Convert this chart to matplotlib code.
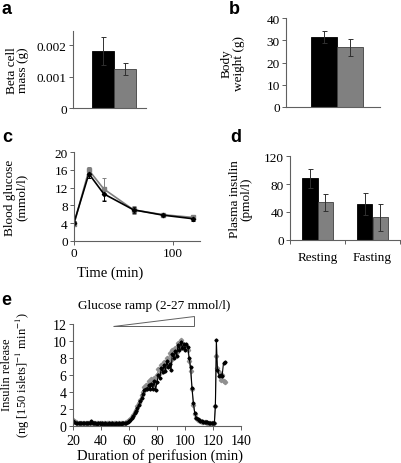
import numpy as np
import matplotlib
matplotlib.use("Agg")
import matplotlib.pyplot as plt
from matplotlib.patches import Polygon

plt.rcParams['font.family'] = ['Liberation Serif', 'DejaVu Serif']
plt.rcParams['mathtext.fontset'] = 'stix'

# panel a: beta cell mass (g)
beta_mass = [0.00182, 0.00125]
beta_err = [0.00045, 0.0002]

# panel b: body weight (g)
body_weight = [31.5, 26.8]
body_err = [2.6, 3.9]

# panel c: blood glucose (mmol/l)
t_gluc = [0, 15, 30, 60, 90, 120]
gluc_black = [4.1, 15.1, 10.6, 7.0, 5.8, 5.0]
gluc_black_err = [0.5, 1.0, 1.6, 0.6, 0.3, 0.4]
gluc_grey = [3.8, 15.9, 11.7, 7.0, 5.9, 5.3]
gluc_grey_err = [0.5, 0.8, 2.4, 0.9, 0.4, 0.3]

# panel d: plasma insulin (pmol/l)
ins_cats = ['Resting', 'Fasting']
ins_black = [88.3, 51.4]
ins_black_err = [13.4, 15.8]
ins_grey = [53.8, 32.2]
ins_grey_err = [12.2, 18.8]

# panel e: perifusion insulin release
t_peri = list(range(20, 122)) + [121.7, 122.4, 123.2, 124.5, 125.5, 126.5, 127.5, 128.8]
rel_black = [0.55, 0.45, 0.40, 0.35, 0.35, 0.30, 0.35, 0.30, 0.30, 0.30,
             0.30, 0.35, 0.30, 0.55, 0.30, 0.30, 0.30, 0.25, 0.30, 0.30,
             0.25, 0.30, 0.25, 0.30, 0.25, 0.25, 0.30, 0.25, 0.30, 0.25,
             0.25, 0.30, 0.25, 0.30, 0.25, 0.30, 0.30, 0.35, 0.40, 0.50,
             0.60, 0.75, 0.95, 1.20, 1.50, 1.80, 2.10, 2.50, 2.90, 3.30,
             3.80, 4.20, 4.40, 4.30, 4.80, 4.30, 4.90, 4.40, 5.30, 4.20,
             5.20, 6.00, 5.60, 6.80, 6.30, 7.20, 6.50, 7.60, 6.90, 7.30,
             6.60, 8.50, 8.00, 8.80, 8.20, 9.50, 9.00, 9.90, 9.20, 9.60,
             9.00, 9.60, 9.30, 8.00, 6.90, 4.50, 2.70, 1.50, 1.00, 0.80,
             0.70, 0.60, 0.55, 0.50, 0.50, 0.45, 0.45, 0.40, 0.40, 0.40,
             0.35, 0.40,
             2.40, 10.10, 6.60, 5.90, 6.00, 5.90, 7.40, 7.50]
rel_grey = [0.65, 0.55, 0.45, 0.40, 0.40, 0.35, 0.35, 0.35, 0.30, 0.35,
            0.35, 0.30, 0.35, 0.40, 0.35, 0.30, 0.35, 0.30, 0.30, 0.35,
            0.30, 0.30, 0.35, 0.30, 0.30, 0.35, 0.30, 0.35, 0.40, 0.30,
            0.30, 0.30, 0.30, 0.35, 0.30, 0.35, 0.35, 0.40, 0.45, 0.55,
            0.70, 0.85, 1.05, 1.30, 1.60, 1.90, 2.30, 2.70, 3.10, 3.60,
            4.00, 4.60, 4.80, 4.50, 5.30, 4.90, 5.50, 5.00, 5.60, 5.20,
            6.00, 6.70, 6.20, 7.20, 6.80, 7.50, 7.00, 8.00, 7.40, 8.60,
            7.80, 8.90, 8.40, 9.20, 8.70, 9.80, 9.30, 10.10, 9.40, 9.50,
            9.20, 9.40, 9.00, 7.60, 6.50, 4.30, 2.50, 1.40, 0.90, 0.75,
            0.65, 0.55, 0.50, 0.50, 0.45, 0.45, 0.40, 0.40, 0.35, 0.35,
            0.35, 0.40,
            2.30, 8.20, 6.80, 6.30, 5.40, 6.00, 5.30, 5.20]
ramp_start, ramp_end = 48.4, 106.6

BLACK = '#000000'
GREY = '#808080'
SPINE = '#606060'

W, H = 402, 464
fig = plt.figure(figsize=(W / 100, H / 100), dpi=100)


def px_axes(x0, y0, x1, y1):
    # pixel box (left, top, right, bottom) -> figure axes
    return fig.add_axes([x0 / W, 1 - y1 / H, (x1 - x0) / W, (y1 - y0) / H])


def style(ax):
    for s in ['top', 'right']:
        ax.spines[s].set_visible(False)
    for s in ['left', 'bottom']:
        ax.spines[s].set_color(SPINE)
        ax.spines[s].set_linewidth(0.8)
    ax.tick_params(labelsize=9.5, length=3, width=0.7, color=SPINE, pad=1.5)


def bars(ax, vals, errs):
    w = 0.3
    ax.bar([-w / 2], [vals[0]], w, color=BLACK, edgecolor=BLACK, lw=0.6)
    ax.bar([w / 2], [vals[1]], w, color=GREY, edgecolor='#404040', lw=0.6)
    ax.errorbar([-w / 2, w / 2], vals, yerr=errs, fmt='none',
                ecolor='#303030', elinewidth=0.7, capsize=1.8, capthick=0.7)
    ax.set_xticks([])


def letter(x, y, s):
    fig.text(x / W, 1 - y / H, s, fontsize=13, fontweight='bold',
             family='Liberation Sans', ha='center', va='center')


# a
ax = px_axes(73, 32, 146, 109)
style(ax)
bars(ax, beta_mass, beta_err)
ax.set_xlim(-0.547, 0.427)
ax.set_ylim(0, 0.00246)
ax.set_yticks([0, 0.001, 0.002])
ax.set_yticklabels(['0', '0.001', '0.002'])
ax.set_ylabel('Beta cell\nmass (g)', fontsize=9.5, linespacing=0.95)
ax.yaxis.set_label_coords(-0.6, 0.5)
letter(7, 10, 'a')

# b
ax = px_axes(286, 19, 380, 108)
style(ax)
bars(ax, body_weight, body_err)
ax.set_xlim(-0.58, 0.49)
ax.set_ylim(0, 40)
ax.set_yticks([0, 10, 20, 30, 40])
ax.set_ylabel('Body\nweight (g)', fontsize=9.5, linespacing=0.95)
ax.yaxis.set_label_coords(-0.44, 0.5)
letter(234, 9, 'b')

# c
ax = px_axes(74, 153, 200, 242)
style(ax)
ax.errorbar(t_gluc, gluc_grey, yerr=gluc_grey_err, color=GREY, marker='s',
            ms=3, lw=1.2, elinewidth=0.7, capsize=1.5, capthick=0.7)
ax.errorbar(t_gluc, gluc_black, yerr=gluc_black_err, color=BLACK, marker='D',
            ms=2.2, lw=1.2, elinewidth=0.7, capsize=1.5, capthick=0.7)
ax.set_xlim(0, 127)
ax.set_ylim(0, 20)
ax.set_yticks([0, 4, 8, 12, 16, 20])
ax.set_xticks([0, 100])
ax.set_xlabel('Time (min)', fontsize=10.5)
ax.xaxis.set_label_coords(0.29, -0.28)
ax.set_ylabel('Blood glucose\n(mmol/l)', fontsize=9.5, linespacing=0.95)
ax.yaxis.set_label_coords(-0.37, 0.5)
letter(7, 138, 'c')

# d
ax = px_axes(290, 157, 400, 241)
style(ax)
w = 0.29
xc = np.arange(len(ins_cats))
ax.bar(xc - w / 2, ins_black, w, color=BLACK, edgecolor=BLACK, lw=0.6)
ax.bar(xc + w / 2, ins_grey, w, color=GREY, edgecolor='#404040', lw=0.6)
ax.errorbar(xc - w / 2, ins_black, yerr=ins_black_err, fmt='none',
            ecolor='#303030', elinewidth=0.7, capsize=1.8, capthick=0.7)
ax.errorbar(xc + w / 2, ins_grey, yerr=ins_grey_err, fmt='none',
            ecolor='#303030', elinewidth=0.7, capsize=1.8, capthick=0.7)
ax.set_xlim(-0.5, 1.5)
ax.set_ylim(0, 120)
ax.set_yticks([0, 40, 80, 120])
ax.set_xticks([-0.5, 0.5, 1.5])
ax.set_xticklabels([])
ax.set_xticks(xc, minor=True)
ax.set_xticklabels(ins_cats, minor=True)
ax.tick_params(axis='x', which='minor', length=0, labelsize=9.5, pad=8)
ax.set_ylabel('Plasma insulin\n(pmol/l)', fontsize=9.5, linespacing=0.95)
ax.yaxis.set_label_coords(-0.34, 0.5)
letter(236, 137, 'd')

# e
ax = px_axes(73, 325, 241, 427)
style(ax)
ax.tick_params(labelsize=10)
ax.tick_params(axis='x', pad=3)
ax.plot(t_peri, rel_grey, color='#909090', marker='D', ms=2.2, lw=0.8)
ax.plot(t_peri, rel_black, color=BLACK, marker='D', ms=1.6, lw=0.8)
ax.set_xlim(20, 140)
ax.set_ylim(0, 12)
ax.set_xticks(range(20, 141, 20))
ax.set_yticks(range(0, 13, 2))
ax.set_xlabel('Duration of perifusion (min)', fontsize=10.5)
ax.xaxis.set_label_coords(0.52, -0.22)
ax.set_ylabel('Insulin release\n(ng [150 islets]$^{-1}$ min$^{-1}$)',
              fontsize=9, linespacing=1.05)
ax.yaxis.set_label_coords(-0.245, 0.51)
tri = Polygon([[ramp_start, 11.8], [ramp_end, 11.8], [ramp_end, 13.0]],
              closed=True, facecolor='white', edgecolor=SPINE, lw=0.7,
              clip_on=False)
ax.add_patch(tri)
ax.text((ramp_start + ramp_end) / 2 + 0.5, 14.2, 'Glucose ramp (2-27 mmol/l)',
        fontsize=9.5, ha='center', va='center')
letter(6, 301, 'e')

fig.savefig('out.png', dpi=100)
